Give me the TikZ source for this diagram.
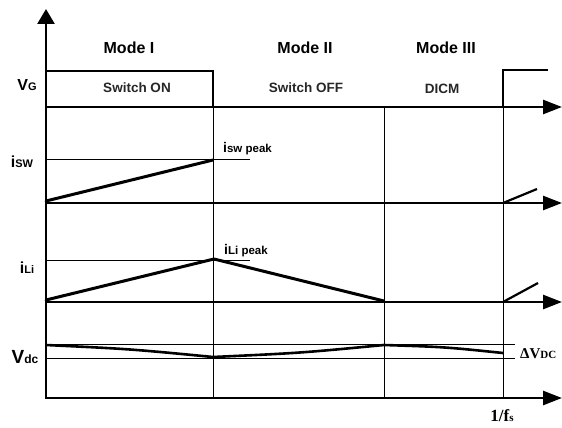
\documentclass[tikz,border=0pt]{standalone}
\usepackage{fontspec}
\setmainfont{Liberation Sans}
\newfontfamily\serifbf{Liberation Serif}
\usetikzlibrary{arrows.meta}
\tikzset{
  ahead/.tip={Triangle[length=19pt,width=14pt]},
  axisline/.style={line width=2.6pt,-ahead,line join=miter},
  sigline/.style={line width=2.6pt,line join=miter},
  guide/.style={line width=0.9pt},
  rampline/.style={line width=3pt,line cap=round,line join=round},
  modelbl/.style={font=\bfseries\fontsize{16}{18}\selectfont},
  statelbl/.style={font=\bfseries\fontsize{13.5}{16}\selectfont,text=black!85},
  siglbl/.style={font=\bfseries,inner sep=0pt},
}
\begin{document}
\begin{tikzpicture}[x=1pt,y=-1pt]
\useasboundingbox (0,0) rectangle (562,428);
% key points
\coordinate (O) at (46,398);
\coordinate (Top) at (46,9);
\coordinate (Xend) at (562,398);
% main axes
\draw[line width=2.6pt,{Triangle[length=15pt,width=17pt]}-ahead,line join=miter] (Top) -- (O) -- (Xend);
% V_G trace
\coordinate (g0) at (46,107);
\coordinate (gend) at (562,107);
\draw[axisline] (g0) -- (gend);
\draw[sigline] (46,71) coordinate (gh0) -- (213,71) coordinate (gh1) -- (213,107) coordinate (gl1);
\draw[sigline] (503,107) coordinate (gr0) -- (503,70) coordinate (gr1) -- (548,70) coordinate (gr2);
% mode dividers
\draw[guide] (gl1) -- (213,398);
\draw[guide] (384,107) coordinate (d2) -- (384,398);
\draw[guide] (gr0) -- (503,398);
% i_sw trace
\coordinate (s0) at (46,203);
\draw[axisline] (s0) -- (562,203);
\draw[guide] (46,159) -- (250,159);
\draw[rampline] (46,201) coordinate (sa) -- (213,160) coordinate (sb);
\draw[line width=2.2pt] (503,203) coordinate (sc) -- (537,189) coordinate (sd);
% i_Li trace
\coordinate (l0) at (46,302);
\draw[axisline] (l0) -- (562,302);
\draw[guide] (46,260) -- (250,260);
\draw[rampline] (46,300) coordinate (la) -- (214,259) coordinate (lb) -- (384,301) coordinate (lc);
\draw[line width=2.2pt] (503,302) coordinate (ld) -- (538,283) coordinate (le);
% V_dc trace
\draw[guide] (46,344) -- (515,344);
\draw[guide] (46,358) -- (515,358);
\draw[line width=2.6pt,line join=round] (46,345) coordinate (va) .. controls (130,349) .. (213,357) coordinate (vb)
  .. controls (300,353) .. (384,345) coordinate (vc) .. controls (445,347) .. (503,353) coordinate (vd);
% labels
\node[modelbl] (m1) at (129,48) {Mode I};
\node[modelbl] (m2) at (305,48) {Mode II};
\node[modelbl] (m3) at (446,48) {Mode III};
\node[statelbl] (s1) at (137,88) {Switch ON};
\node[statelbl] (s2) at (306,88) {Switch OFF};
\node[statelbl] (s3) at (442,89) {DICM};
\node[siglbl] (lvg) at (27,85) {\fontsize{16}{16}\selectfont V\fontsize{11}{11}\selectfont G};
\node[siglbl] (lsw) at (22,162) {\fontsize{16}{16}\selectfont i\fontsize{11}{11}\selectfont SW};
\node[siglbl,anchor=west] (lswp) at (223,149) {\fontsize{14}{14}\selectfont i\fontsize{11.5}{11.5}\selectfont sw peak};
\node[siglbl] (lli) at (27,268) {\fontsize{16}{16}\selectfont i\fontsize{11}{11}\selectfont Li};
\node[siglbl,anchor=west] (llip) at (224,251) {\fontsize{14}{14}\selectfont i\fontsize{11.5}{11.5}\selectfont Li peak};
\node[siglbl] (lvdc) at (25,357) {\fontsize{19}{19}\selectfont V\fontsize{12}{12}\selectfont dc};
\node[siglbl,anchor=west,font=\serifbf\bfseries] (ldv) at (520,354) {\fontsize{15}{15}\selectfont ΔV\fontsize{11}{11}\selectfont DC};
\node[siglbl,font=\serifbf\bfseries] (lfs) at (502,416) {\fontsize{17}{17}\selectfont 1/f\fontsize{11}{11}\selectfont s};
\end{tikzpicture}
\end{document}
